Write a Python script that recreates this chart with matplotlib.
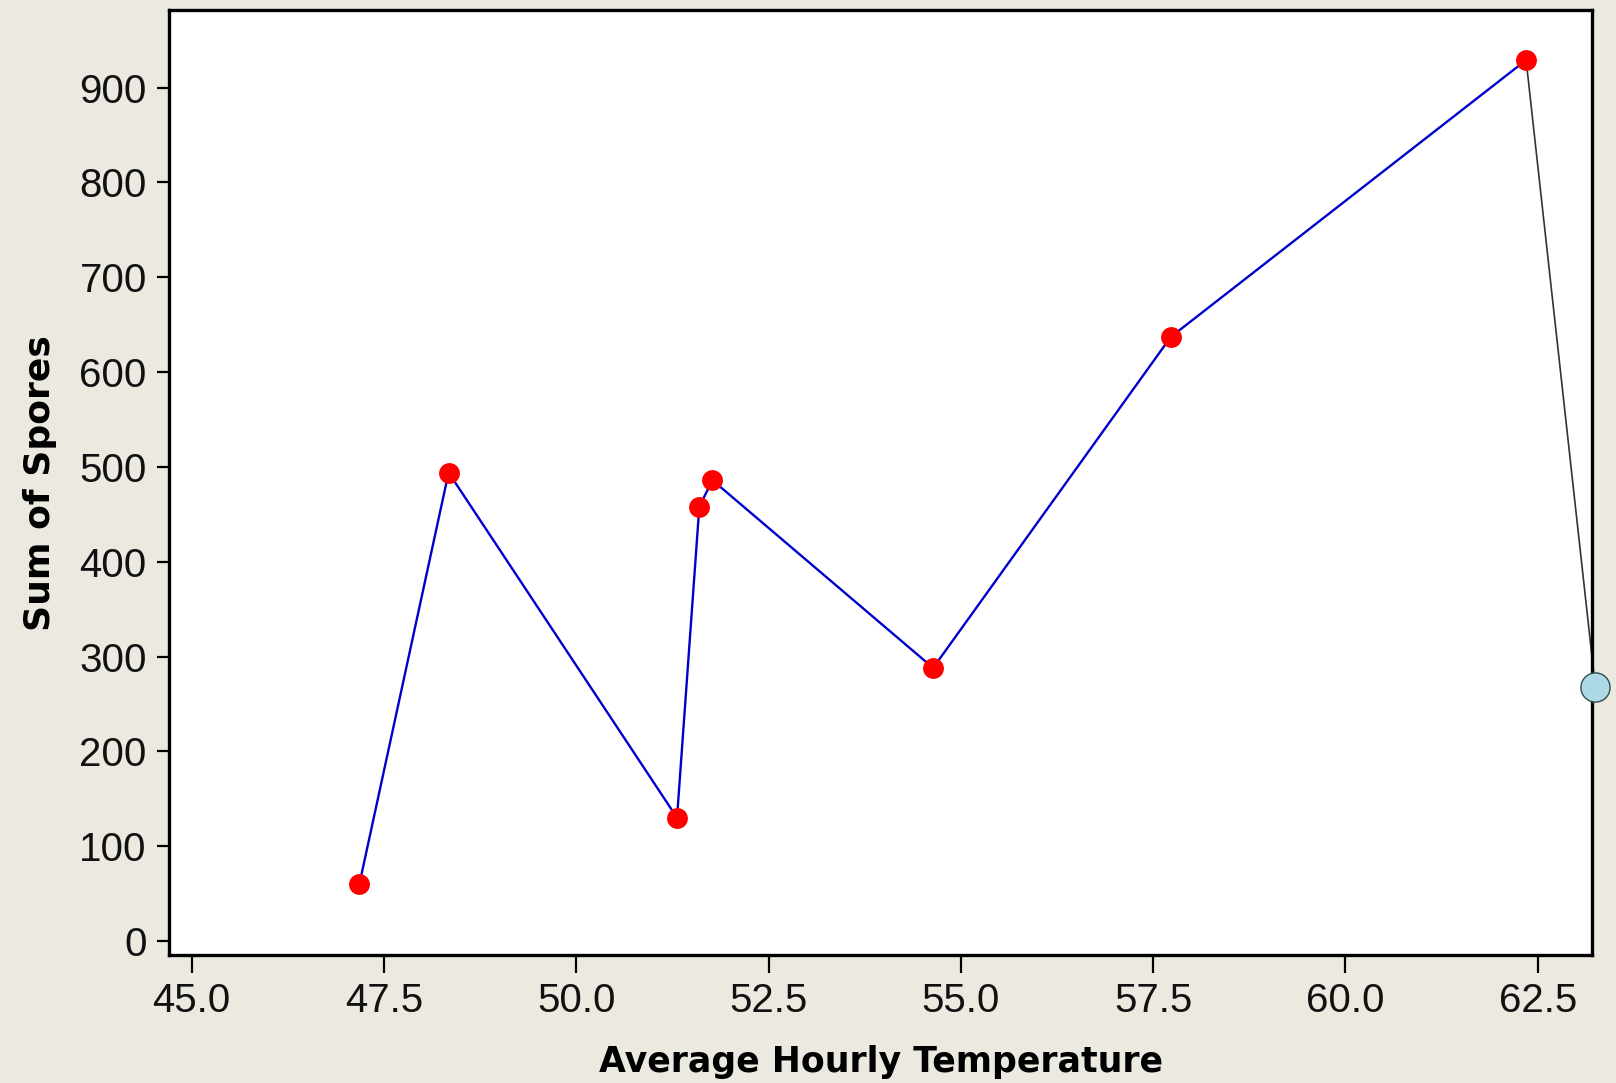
import matplotlib
matplotlib.use('Agg')
from matplotlib import pyplot as plt

# data
temperature = [47.18, 48.34, 51.31, 51.60, 51.77, 54.64, 57.73, 62.35]
spores = [60, 494, 130, 458, 486, 288, 637, 929]

# extra point sitting on the right edge, joined by a thin black line
extra_temp = 63.25
extra_spores = 268

x_ticks = [45.0, 47.5, 50.0, 52.5, 55.0, 57.5, 60.0, 62.5]
y_ticks = [0, 100, 200, 300, 400, 500, 600, 700, 800, 900]

bg = '#ECE9E0'
tick_font = ['Liberation Sans', 'DejaVu Sans']

fig = plt.figure(figsize=(16.16, 10.83), dpi=100, facecolor=bg)
ax = fig.add_axes([0.1046, 0.1178, 0.8807, 0.8727])
ax.set_facecolor('white')

# black connector to the edge point
ax.plot([temperature[-1], extra_temp], [spores[-1], extra_spores],
        color='#333333', linewidth=1.2, zorder=2, clip_on=False)
ax.plot(extra_temp, extra_spores, 'o', markersize=21, markerfacecolor='#ADD8E6',
        markeredgecolor='#2F4F4F', markeredgewidth=1.0, zorder=5, clip_on=False)

# main series
ax.plot(temperature, spores, color='#0000CC', linewidth=1.7, zorder=3)
ax.plot(temperature, spores, 'o', color='#FF0000', markersize=15, zorder=4,
        markeredgewidth=0)

ax.set_xlim(44.705, 63.21)
ax.set_ylim(-15.2, 981.5)
ax.set_xticks(x_ticks)
ax.set_xticklabels(['%.1f' % t for t in x_ticks])
ax.set_yticks(y_ticks)
ax.set_yticklabels([str(t) for t in y_ticks])

for lbl in ax.get_xticklabels() + ax.get_yticklabels():
    lbl.set_family(tick_font)
    lbl.set_fontsize(29)
    lbl.set_color('#111111')

ax.tick_params(axis='x', length=13, width=1.6, pad=6, direction='out')
ax.tick_params(axis='y', length=9, width=1.6, pad=7, direction='out')

for sp in ax.spines.values():
    sp.set_linewidth(2.4)
    sp.set_color('black')

ax.set_xlabel('Average Hourly Temperature', fontsize=25, fontweight='bold',
              family='DejaVu Sans', labelpad=18)
ax.set_ylabel('Sum of Spores', fontsize=26, fontweight='bold',
              family='DejaVu Sans', labelpad=16)

fig.savefig('out.png', dpi=100, facecolor=bg)
